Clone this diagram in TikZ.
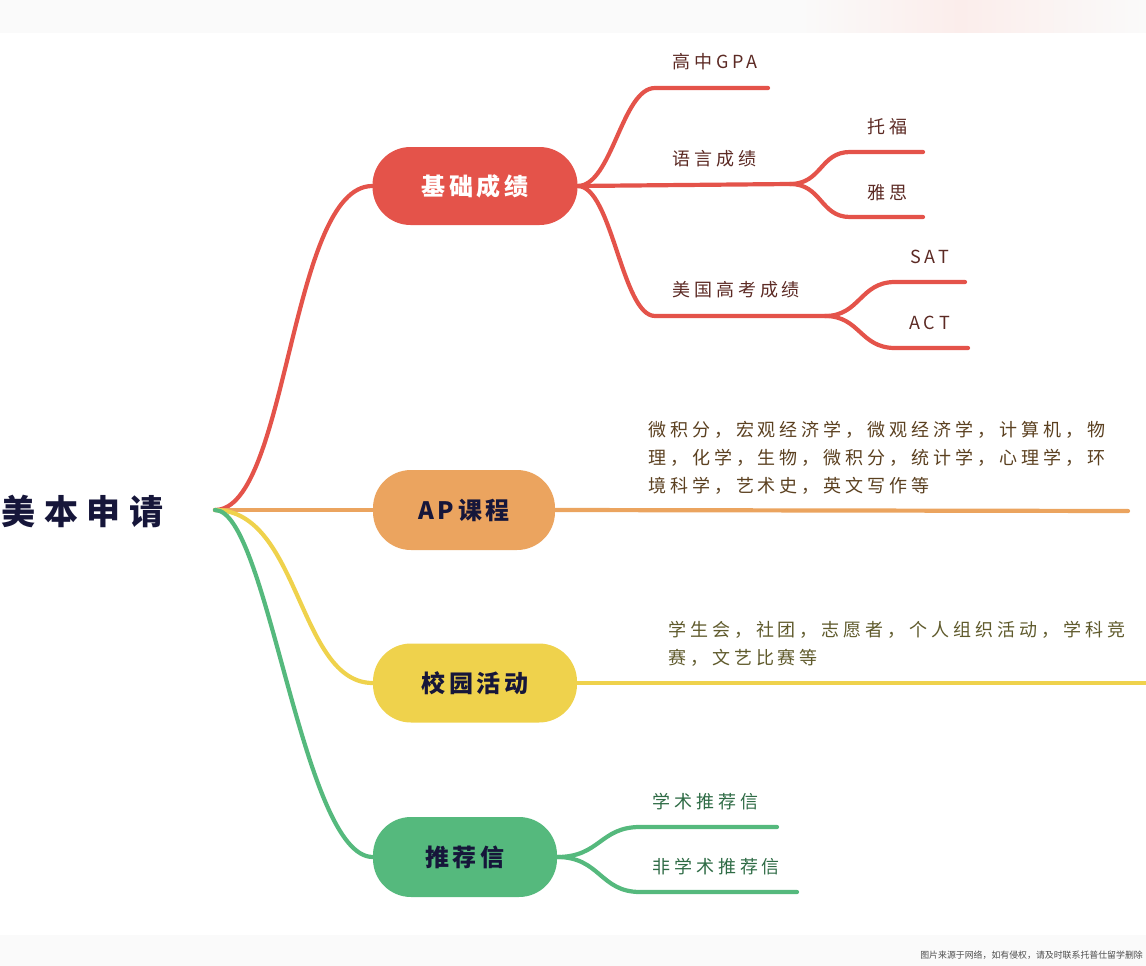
\documentclass[tikz,border=0pt]{standalone}
\usepackage{fontspec}
\setmainfont{Noto Sans CJK SC}
\newfontfamily\lblfont{Noto Sans CJK SC}[LetterSpace=22]
\newfontfamily\headfont{Noto Sans CJK SC}[LetterSpace=16]
\newfontfamily\rootfont{Noto Sans CJK SC}[LetterSpace=26]
\newfontfamily\notefont{Noto Sans CJK SC}
\definecolor{cred}{HTML}{E4534A}
\definecolor{corange}{HTML}{EBA45F}
\definecolor{cyellow}{HTML}{EFD24C}
\definecolor{cgreen}{HTML}{55B97D}
\definecolor{tred}{HTML}{5C2A24}
\definecolor{tbrown}{HTML}{5B4020}
\definecolor{tolive}{HTML}{5F5A2C}
\definecolor{tgreen}{HTML}{2E6B45}
\definecolor{tnavy}{HTML}{16163A}
\definecolor{band}{HTML}{FAFAFA}
\definecolor{pinkband}{HTML}{FBEDEB}
\begin{document}
\begin{tikzpicture}[x=1pt,y=-1pt,
  mainbox/.style={rounded corners=38pt, inner sep=0pt, minimum height=78pt,
    font=\headfont\fontsize{24}{26}\selectfont\bfseries},
  branch/.style={line width=4.2pt, line cap=round},
  lbl/.style={anchor=west, inner sep=0pt, font=\lblfont\fontsize{18}{28}\selectfont},
  para/.style={lbl, align=left}]
\useasboundingbox (0,0) rectangle (1146,966);
\clip (0,0) rectangle (1146,966);
% bands
\fill[band] (0,0) rectangle (1146,33);
\shade[left color=band, right color=pinkband] (800,0) rectangle (960,33);
\shade[left color=pinkband, right color=band] (960,0) rectangle (1146,33);
\fill[band] (0,935) rectangle (1146,966);
\node[anchor=east, inner sep=0pt, text=black!70, font=\notefont\fontsize{8.9}{11}\selectfont] (note) at (1143,955) {图片来源于网络，如有侵权，请及时联系托普仕留学删除};
% root
\node[anchor=west, inner sep=0pt, text=tnavy, font=\rootfont\fontsize{34}{38}\selectfont\bfseries] (root) at (1,511) {美本申请};
\coordinate (hub) at (215,510);
% main nodes
\node[mainbox, fill=cred, text=white, minimum width=205pt] (b1) at (475,186) {基础成绩};
\node[mainbox, fill=corange, text=tnavy, minimum width=182pt, minimum height=80pt] (b2) at (464,510) {AP课程};
\node[mainbox, fill=cyellow, text=tnavy, minimum width=204pt, minimum height=79pt] (b3) at (475,683) {校园活动};
\node[mainbox, fill=cgreen, text=tnavy, minimum width=184pt, minimum height=80pt] (b4) at (465,857) {推荐信};
% connectors from root
\draw[branch, cred] (hub) .. controls (288,510) and (290,186) .. (b1.west);
\draw[branch, corange] (hub) -- (b2.west);
\draw[branch, cyellow] (hub) .. controls (300,510) and (298,683) .. (b3.west);
\draw[branch, cgreen] (hub) .. controls (268,510) and (302,857) .. (b4.west);
% red branch
\coordinate (gpaS) at (655,88); \coordinate (gpaE) at (768,88);
\coordinate (langJ) at (790,184);
\coordinate (tfS) at (850,152); \coordinate (tfE) at (923,152);
\coordinate (ysS) at (850,217); \coordinate (ysE) at (923,217);
\coordinate (usS) at (655,316); \coordinate (usJ) at (825,316);
\coordinate (satS) at (895,282); \coordinate (satE) at (965,282);
\coordinate (actS) at (895,348); \coordinate (actE) at (968,348);
\draw[branch, cred] (b1.east) .. controls (612,186) and (622,88) .. (gpaS) -- (gpaE);
\draw[branch, cred] (b1.east) -- (langJ);
\draw[branch, cred] (langJ) .. controls (822,184) and (820,152) .. (tfS) -- (tfE);
\draw[branch, cred] (langJ) .. controls (822,184) and (820,217) .. (ysS) -- (ysE);
\draw[branch, cred] (b1.east) .. controls (612,186) and (622,316) .. (usS) -- (usJ);
\draw[branch, cred] (usJ) .. controls (860,316) and (860,282) .. (satS) -- (satE);
\draw[branch, cred] (usJ) .. controls (860,316) and (860,348) .. (actS) -- (actE);
\node[lbl, text=tred] (gpa) at (672,62) {高中GPA};
\node[lbl, text=tred] (lang) at (672,159) {语言成绩};
\node[lbl, text=tred] (toefl) at (867,127) {托福};
\node[lbl, text=tred] (ielts) at (867,193) {雅思};
\node[lbl, text=tred] (us) at (672,290) {美国高考成绩};
\node[lbl, text=tred] (sat) at (910,257) {SAT};
\node[lbl, text=tred] (act) at (909,323) {ACT};
% orange branch
\coordinate (apE) at (1128,511);
\draw[branch, corange] (b2.east) -- (apE);
\node[para, text=tbrown] (aptext) at (648,458) {微积分，宏观经济学，微观经济学，计算机，物\\理，化学，生物，微积分，统计学，心理学，环\\境科学，艺术史，英文写作等};
% yellow branch
\coordinate (caE) at (1150,683);
\draw[branch, cyellow] (b3.east) -- (caE);
\node[para, text=tolive] (catext) at (668,644) {学生会，社团，志愿者，个人组织活动，学科竞\\赛，文艺比赛等};
% green branch
\coordinate (l1S) at (640,827); \coordinate (l1E) at (777,827);
\coordinate (l2S) at (640,892); \coordinate (l2E) at (797,892);
\draw[branch, cgreen] (b4.east) .. controls (600,857) and (600,827) .. (l1S) -- (l1E);
\draw[branch, cgreen] (b4.east) .. controls (600,857) and (600,892) .. (l2S) -- (l2E);
\node[lbl, text=tgreen] (lt1) at (652,802) {学术推荐信};
\node[lbl, text=tgreen] (lt2) at (652,867) {非学术推荐信};
\end{tikzpicture}
\end{document}
